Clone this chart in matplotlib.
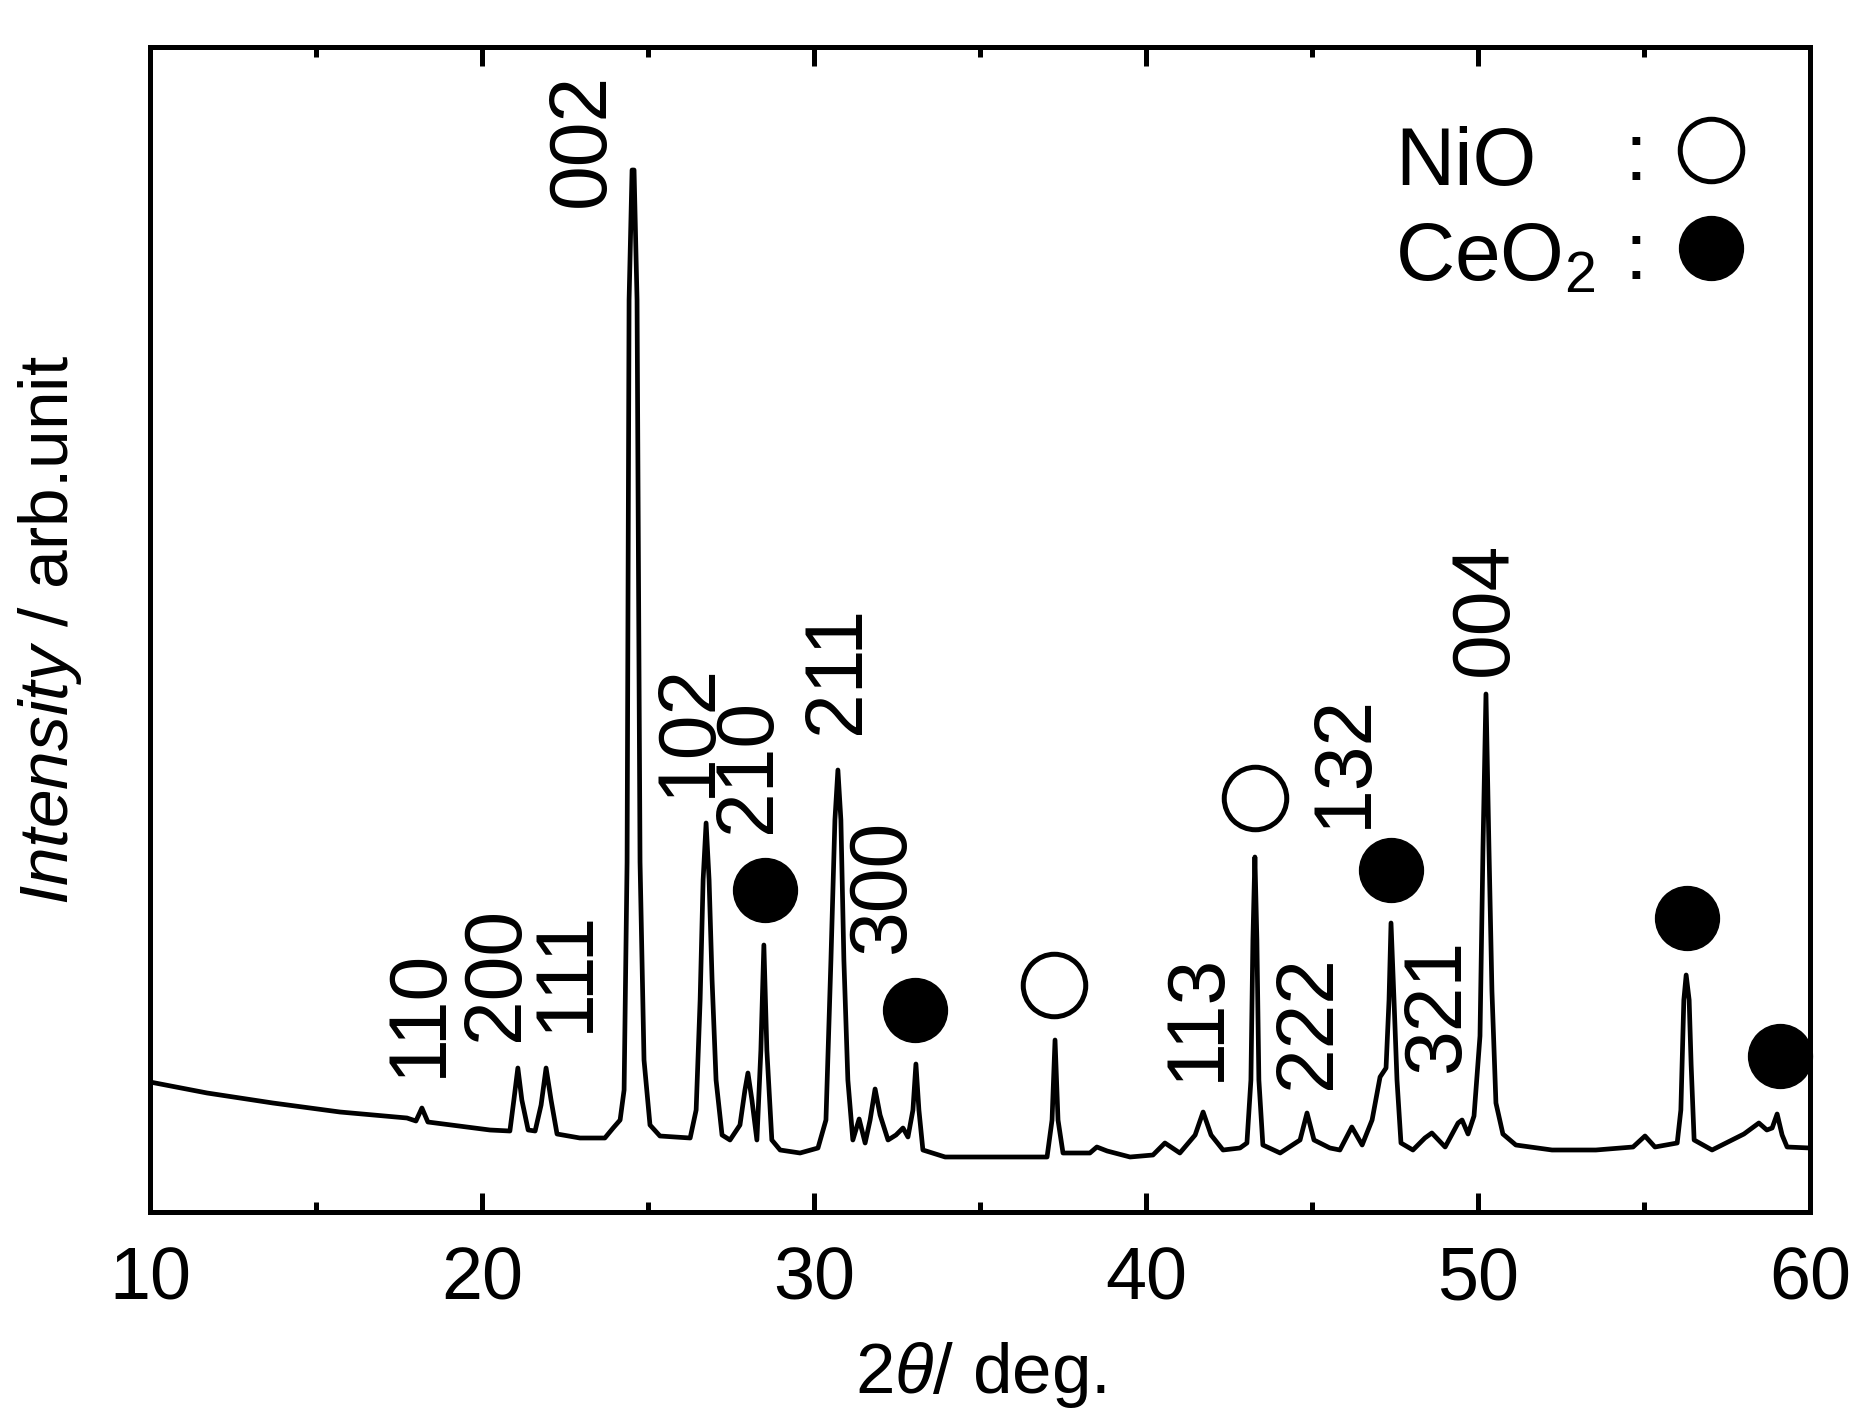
import matplotlib
matplotlib.use("Agg")
import matplotlib.pyplot as plt
from matplotlib.ticker import MultipleLocator

plt.rcParams['font.family'] = ['Liberation Sans', 'DejaVu Sans']
plt.rcParams['mathtext.fontset'] = 'custom'
plt.rcParams['mathtext.rm'] = 'Liberation Sans'
plt.rcParams['mathtext.it'] = 'Liberation Sans:italic'
plt.rcParams['mathtext.bf'] = 'Liberation Sans:bold'

# ---- data ----
two_theta = [10.00, 11.72, 13.70, 15.72, 17.74, 18.01, 18.19, 18.37, 20.24, 20.84,
             20.96, 21.08, 21.20, 21.39, 21.60, 21.78, 21.93, 22.08, 22.26, 22.95,
             23.70, 23.95, 24.16, 24.28, 24.37, 24.43, 24.52, 24.58, 24.67, 24.76,
             24.88, 25.06, 25.36, 26.27, 26.45, 26.57, 26.66, 26.75, 26.84, 26.93,
             27.05, 27.23, 27.47, 27.77, 27.92, 28.01, 28.13, 28.28, 28.40, 28.49,
             28.58, 28.73, 28.98, 29.58, 30.12, 30.36, 30.51, 30.63, 30.72, 30.81,
             30.90, 31.02, 31.17, 31.36, 31.54, 31.69, 31.84, 31.99, 32.23, 32.47,
             32.68, 32.83, 32.98, 33.07, 33.16, 33.28, 33.95, 35.30, 37.02, 37.17,
             37.26, 37.35, 37.50, 38.31, 38.52, 38.83, 39.52, 40.21, 40.57, 41.02,
             41.48, 41.72, 41.96, 42.32, 42.83, 43.04, 43.16, 43.22, 43.28, 43.34,
             43.40, 43.52, 44.04, 44.64, 44.85, 45.06, 45.54, 45.84, 46.20, 46.51,
             46.81, 47.05, 47.23, 47.32, 47.38, 47.47, 47.56, 47.68, 48.04, 48.40,
             48.61, 49.01, 49.40, 49.52, 49.70, 49.88, 50.06, 50.15, 50.24, 50.33,
             50.42, 50.54, 50.75, 51.14, 52.23, 53.55, 54.67, 55.03, 55.33, 56.00,
             56.11, 56.20, 56.27, 56.36, 56.42, 56.51, 57.05, 58.01, 58.46, 58.70,
             58.86, 59.01, 59.16, 59.31, 60.00]
intensity = [130, 119, 109, 100, 94, 91, 104, 90, 82, 81,
             112, 144, 112, 82, 81, 107, 144, 112, 78, 74,
             74, 84, 92, 122, 350, 912, 1042, 1042, 912, 350,
             152, 87, 76, 74, 102, 212, 332, 389, 332, 232,
             132, 77, 72, 87, 122, 139, 112, 72, 162, 267,
             162, 72, 62, 59, 64, 92, 252, 392, 442, 392,
             252, 132, 72, 93, 69, 92, 123, 97, 72, 77,
             84, 75, 102, 148, 102, 62, 55, 55, 55, 92,
             172, 92, 59, 59, 65, 61, 55, 57, 69, 59,
             77, 100, 77, 62, 64, 69, 132, 272, 355, 272,
             132, 67, 59, 72, 99, 72, 64, 62, 85, 67,
             92, 135, 144, 212, 289, 212, 132, 69, 62, 74,
             79, 65, 89, 92, 78, 96, 176, 364, 518, 364,
             221, 109, 78, 67, 62, 62, 65, 76, 65, 69,
             102, 212, 237, 212, 147, 72, 62, 78, 89, 82,
             84, 98, 77, 65, 64]

hkl_labels = ['110', '200', '111', '002', '102', '210', '211', '300',
              '113', '222', '132', '321', '004']
hkl_x = [18.13, 20.45, 22.56, 23.04, 26.23, 28.04, 30.72, 32.08,
         41.57, 44.92, 45.99, 48.80, 50.24]
hkl_y = [135, 171, 180, 1005, 415, 379, 478, 259,
         131, 123, 384, 140, 536]

nio_x = [37.23, 43.28]
nio_y = [227, 414]
ceo2_x = [28.52, 33.04, 47.38, 56.30, 59.10]
ceo2_y = [322, 202, 342, 294, 156]

legend_names = ['NiO', 'CeO$_2$']

# ---- figure ----
W, H, DPI = 1851, 1412, 100
fig = plt.figure(figsize=(W / DPI, H / DPI), dpi=DPI)
ax = fig.add_axes([150 / W, 200 / H, 1660 / W, 1165 / H])

ax.plot(two_theta, intensity, color='black', lw=3.4, solid_joinstyle='round')

ax.set_xlim(10, 60)
ax.set_ylim(0, 1165)
ax.xaxis.set_major_locator(MultipleLocator(10))
ax.xaxis.set_minor_locator(MultipleLocator(5))
ax.set_yticks([])
ax.tick_params(axis='x', which='both', direction='in', top=True, bottom=True,
               width=3.6, labelsize=53, pad=24)
ax.tick_params(axis='x', which='major', length=13.7)
ax.tick_params(axis='x', which='minor', length=7)
for s in ax.spines.values():
    s.set_linewidth(3.6)

ax.set_xlabel(r'2$\mathit{\theta}$/ deg.', fontsize=51)
ax.xaxis.set_label_coords(0.5, -0.110)
ax.set_ylabel(r'$\mathit{Intensity}$ / arb.unit', fontsize=50)
ax.yaxis.set_label_coords(-0.04, 0.5)

# hkl labels
for lab, x, y in zip(hkl_labels, hkl_x, hkl_y):
    ax.text(x, y, lab, rotation=90, ha='center', va='bottom', fontsize=58)

# phase markers
ax.plot(nio_x, nio_y, ls='none', marker='o', ms=45, mfc='white', mec='black',
        mew=3.6, clip_on=False)
ax.plot(ceo2_x, ceo2_y, ls='none', marker='o', ms=46, mfc='black', mec='black',
        mew=1, clip_on=False)

# legend
tx = (1395 - 150) / 1660
cx = (1636 - 150) / 1660
mx = (1711 - 150) / 1660
rows_y = [(1212 - 185) / 1165, (1212 - 280) / 1165]
colon_y = [(1212 - 180) / 1165, (1212 - 279) / 1165]
mark_y = [(1212 - 150) / 1165, (1212 - 248) / 1165]
for name, ry, cy in zip(legend_names, rows_y, colon_y):
    ax.text(tx, ry, name, transform=ax.transAxes, fontsize=59, ha='left', va='baseline')
    ax.text(cx, cy, ':', transform=ax.transAxes, fontsize=59, ha='center', va='baseline')
ax.plot([mx], [mark_y[0]], transform=ax.transAxes, ls='none', marker='o', ms=45,
        mfc='white', mec='black', mew=3.6, clip_on=False)
ax.plot([mx], [mark_y[1]], transform=ax.transAxes, ls='none', marker='o', ms=46,
        mfc='black', mec='black', mew=1, clip_on=False)

fig.savefig('out.png', dpi=DPI)
